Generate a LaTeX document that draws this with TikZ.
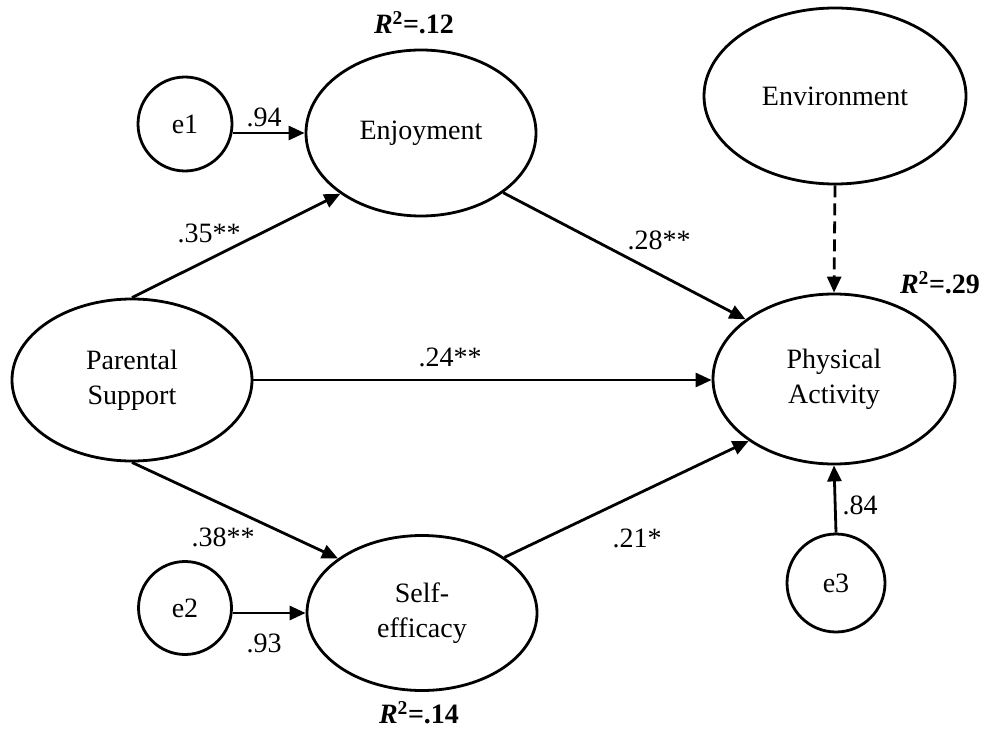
\documentclass[tikz,border=0pt]{standalone}
\usepackage{fontspec}
\setmainfont{Liberation Serif}
\usetikzlibrary{arrows.meta,shapes.geometric}
\tikzset{latent/.style={ellipse,draw,inner sep=0pt,align=center},
  errnode/.style={circle,draw,inner sep=0pt},
  coef/.style={inner sep=1pt},
  rsq/.style={inner sep=1pt,font=\fontsize{28}{33}\selectfont\bfseries}}
\begin{document}
\begin{tikzpicture}[x=1pt,y=-1pt,line width=2.8pt,
    >={Triangle[length=16pt,width=14pt]},
    node font=\fontsize{28}{35}\selectfont]
			\useasboundingbox (0,0) rectangle (987,730);
			% latent variables
			\node[latent,minimum width=230pt,minimum height=166pt] (enj) at (421,133) {Enjoyment};
			\node[latent,minimum width=262pt,minimum height=176pt] (env) at (835,96) {Environment};
			\node[latent,minimum width=240pt,minimum height=162pt] (ps) at (132,380) {Parental\\Support};
			\node[latent,minimum width=242pt,minimum height=170pt] (pa) at (834,379) {Physical\\Activity};
			\node[latent,minimum width=230pt,minimum height=155pt] (se) at (422,613) {Self-\\efficacy};
			% error terms
			\node[errnode,minimum size=94pt] (e1) at (185,124) {e1};
			\node[errnode,minimum size=93pt] (e2) at (185,608) {e2};
			\node[errnode,minimum size=98pt] (e3) at (836,583) {e3};
			% paths
			\draw[->] (e1.east |- enj) -- (enj.west);
			\draw[->] (e2.east |- se) -- (se.west);
			\draw[->] (e3.north) -- (pa.south);
			\draw[->] (ps.north) -- (enj.217);
			\draw[->] (ps.south) -- (se.147);
			\draw[->] (ps.east) -- (ps.east -| pa.west);
			\draw[->] (enj.324) -- (pa.146);
			\draw[->] (se.34) -- (pa.216);
			\draw[->,dash pattern=on 12pt off 6pt] (env.south) -- (pa.north);
			% coefficients
			\node[coef] (c94) at (264,117) {.94};
			\node[coef] (c93) at (264,643) {.93};
			\node[coef] (c84) at (860,505) {.84};
			\node[coef] (c35) at (209,233) {.35**};
			\node[coef] (c28) at (659,240) {.28**};
			\node[coef] (c24) at (450,357) {.24**};
			\node[coef] (c38) at (223,537) {.38**};
			\node[coef] (c21) at (637,538) {.21*};
			% explained variance
			\node[rsq] (r12) at (414,23) {\textit{R}\textsuperscript{\upshape 2}=.12};
			\node[rsq] (r29) at (940,283) {\textit{R}\textsuperscript{\upshape 2}=.29};
			\node[rsq] (r14) at (419,713) {\textit{R}\textsuperscript{\upshape 2}=.14};
		\end{tikzpicture}
\end{document}
